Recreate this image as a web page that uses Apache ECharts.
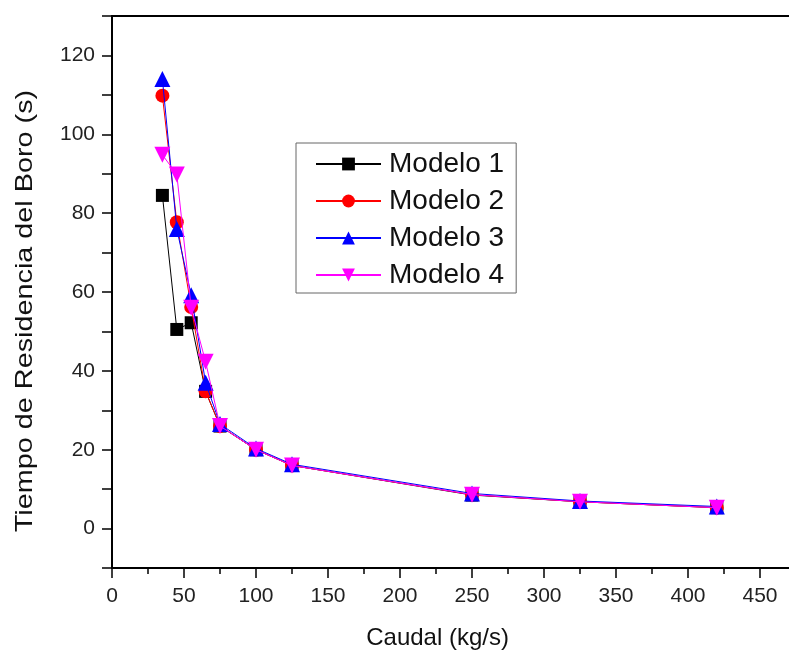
<!DOCTYPE html>
<html><head><meta charset="utf-8">
<script src="https://cdn.jsdelivr.net/npm/echarts@6/dist/echarts.min.js"></script>
<style>html,body{margin:0;padding:0;background:#fff}#c{width:789px;height:655px}</style>
</head><body><div id="c"></div>
<script>
const caudal = [35, 45, 55, 65, 75, 100, 125, 250, 325, 420];
const modelo1 = [84.5, 50.5, 52.2, 34.8, 26.0, 20.0, 16.0, 8.5, 6.8, 5.3];
const modelo2 = [109.8, 77.7, 56.2, 34.8, 26.0, 20.0, 16.0, 8.6, 6.8, 5.3];
const modelo3 = [114.0, 76.0, 59.2, 37.0, 26.5, 20.3, 16.3, 8.9, 7.0, 5.6];
const modelo4 = [94.8, 89.8, 56.0, 42.3, 26.0, 20.0, 16.0, 8.6, 6.8, 5.3];
const seriesNames = ['Modelo 1', 'Modelo 2', 'Modelo 3', 'Modelo 4'];
const xTicks = [0, 50, 100, 150, 200, 250, 300, 350, 400, 450];
const yTicks = [0, 20, 40, 60, 80, 100, 120];

const font = 'Liberation Sans, Arial, sans-serif';
const pair = arr => caudal.map((x, i) => [x, arr[i]]);
const styles = [
  {color: '#000000', symbol: 'rect', size: 13, rot: 0},
  {color: '#ff0000', symbol: 'circle', size: 14, rot: 0},
  {color: '#0000ff', symbol: 'triangle', size: 16, rot: 0},
  {color: '#ff00ff', symbol: 'triangle', size: 16, rot: 180}
];
const data = [modelo1, modelo2, modelo3, modelo4];

const chart = echarts.init(document.getElementById('c'), null, {renderer: 'canvas'});
chart.setOption({
  animation: false,
  backgroundColor: '#fff',
  grid: {left: 112, top: 16, width: 691.2, height: 552, containLabel: false, outerBoundsMode: 'none',
    show: true, borderColor: '#000', borderWidth: 2, backgroundColor: 'transparent'},
  xAxis: {
    type: 'value', min: 0, max: 480, interval: 50,
    name: 'Caudal (kg/s)', nameLocation: 'middle', nameGap: 58,
    nameTextStyle: {fontFamily: font, fontSize: 24, color: '#111', padding: [0, 0, 0, -40]},
    axisLine: {show: true, onZero: false, lineStyle: {color: '#000', width: 2}},
    axisTick: {show: true, inside: false, length: 10, lineStyle: {color: '#000', width: 1.5}},
    minorTick: {show: true, splitNumber: 2, length: 6, lineStyle: {color: '#000', width: 1.5}},
    axisLabel: {fontFamily: font, fontSize: 21, color: '#222', margin: 18,
      formatter: v => xTicks.includes(v) ? String(v) : ''},
    splitLine: {show: false}
  },
  yAxis: {
    type: 'value', min: -10, max: 130, interval: 10,
    axisLine: {show: true, onZero: false, lineStyle: {color: '#000', width: 2}},
    axisTick: {show: true, inside: false, length: 10, lineStyle: {color: '#000', width: 1.5}},
    axisLabel: {fontFamily: font, fontSize: 21, color: '#222', margin: 17,
      formatter: v => yTicks.includes(v) ? String(v) : ''},
    splitLine: {show: false}
  },
  legend: {
    orient: 'vertical', left: 296, top: 143,
    data: seriesNames,
    itemWidth: 65, itemHeight: 16, itemGap: 9,
    padding: [7, 12, 4, 19],
    borderColor: '#666', borderWidth: 1, borderRadius: 0,
    backgroundColor: '#fff',
    textStyle: {fontFamily: font, fontSize: 28, color: '#111', lineHeight: 28, padding: [0, 0, 0, 3]}
  },
  graphic: [{
    type: 'text', x: 25, y: 311, rotation: Math.PI / 2, scaleX: 1.2,
    style: {text: 'Tiempo de Residencia del Boro (s)', font: '24px ' + font, fill: '#111',
      textAlign: 'center', textVerticalAlign: 'middle'}
  }],
  series: data.map((arr, i) => ({
    name: seriesNames[i], type: 'line', data: pair(arr),
    symbol: styles[i].symbol, symbolSize: styles[i].size, symbolRotate: styles[i].rot,
    showAllSymbol: true,
    lineStyle: {color: styles[i].color, width: 1},
    itemStyle: {color: styles[i].color, borderWidth: 0},
    z: 2 + i
  }))
});
</script></body></html>
